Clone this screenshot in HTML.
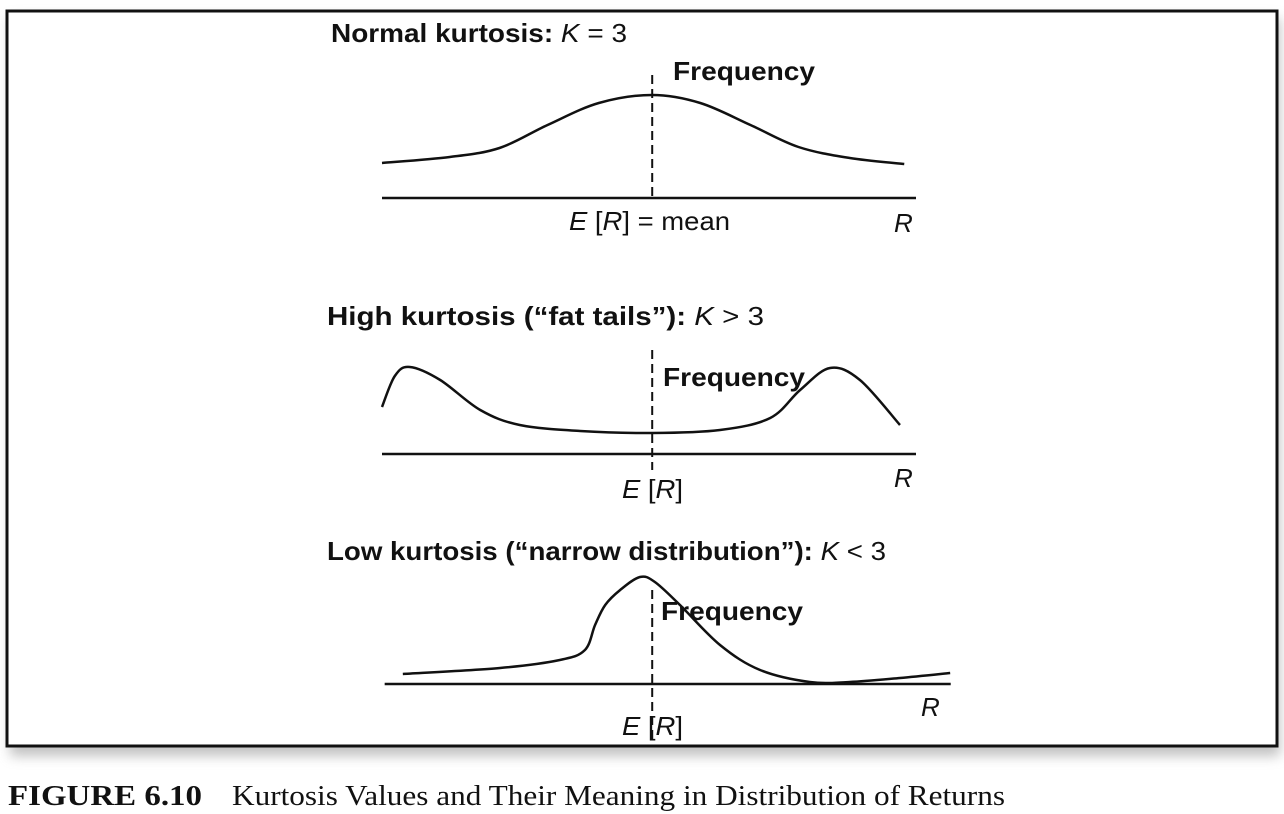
<!DOCTYPE html>
<html><head><meta charset="utf-8"><style>
html,body{margin:0;padding:0;background:#fff;}
body{width:1284px;height:814px;overflow:hidden;position:relative;}
svg{position:absolute;left:0;top:0;}
</style></head><body>
<svg id="fig" width="1284" height="814">
<defs><filter id="sh" x="-5%" y="-5%" width="110%" height="120%"><feGaussianBlur stdDeviation="6"/></filter></defs>
<rect x="10" y="18" width="1270" height="738" fill="#999" opacity="0.6" filter="url(#sh)"/>
<rect x="7" y="11" width="1270" height="735" fill="#fff" stroke="#111" stroke-width="3"/>
<g font-family="Liberation Sans, sans-serif" fill="#111" font-size="26" lengthAdjust="spacingAndGlyphs">
<text x="331" y="42" textLength="296" lengthAdjust="spacingAndGlyphs" font-weight="bold">Normal kurtosis: <tspan font-style="italic" font-weight="normal">K</tspan><tspan font-weight="normal"> = 3</tspan></text>
<text x="673" y="80" textLength="142" lengthAdjust="spacingAndGlyphs" font-weight="bold">Frequency</text>
<text x="569" y="230" textLength="161" lengthAdjust="spacingAndGlyphs"><tspan font-style="italic">E</tspan> [<tspan font-style="italic">R</tspan>] = mean</text>
<text x="894" y="232" font-style="italic">R</text>
<text x="327" y="325" textLength="437" lengthAdjust="spacingAndGlyphs" font-weight="bold">High kurtosis (“fat tails”): <tspan font-style="italic" font-weight="normal">K</tspan><tspan font-weight="normal"> &gt; 3</tspan></text>
<text x="663" y="386" textLength="142" lengthAdjust="spacingAndGlyphs" font-weight="bold">Frequency</text>
<text x="622" y="498" textLength="61" lengthAdjust="spacingAndGlyphs"><tspan font-style="italic">E</tspan> [<tspan font-style="italic">R</tspan>]</text>
<text x="894" y="487" font-style="italic">R</text>
<text x="327" y="560" textLength="559" lengthAdjust="spacingAndGlyphs" font-weight="bold">Low kurtosis (“narrow distribution”): <tspan font-style="italic" font-weight="normal">K</tspan><tspan font-weight="normal"> &lt; 3</tspan></text>
<text x="661" y="620" textLength="142" lengthAdjust="spacingAndGlyphs" font-weight="bold">Frequency</text>
<text x="622" y="735" textLength="61" lengthAdjust="spacingAndGlyphs"><tspan font-style="italic">E</tspan> [<tspan font-style="italic">R</tspan>]</text>
<text x="921" y="716" font-style="italic">R</text>
</g>
<text x="8" y="805" textLength="194" lengthAdjust="spacingAndGlyphs" font-family="Liberation Serif, serif" font-size="28" font-weight="bold" fill="#111">FIGURE 6.10</text>
<text x="232" y="805" textLength="773" lengthAdjust="spacingAndGlyphs" font-family="Liberation Serif, serif" font-size="29" fill="#111">Kurtosis Values and Their Meaning in Distribution of Returns</text>
<g id="plots"></g>
</svg>
<script>
const normalR=[0,12.7,22,31,40.6,50.6,59.6,69,78,87.6,97.8];
const normalF=[0.35,0.41,0.50,0.73,0.95,1.03,0.95,0.73,0.51,0.40,0.34];
const highR=[0,2.4,5.2,10.9,18.4,25.8,37.1,50.6,63.3,72.7,78.3,83.9,89.5,97];
const highF=[0.47,0.78,0.87,0.74,0.44,0.29,0.23,0.21,0.24,0.36,0.64,0.86,0.74,0.29];
const lowR=[3.9,22.1,33.3,38,39.9,41.8,44.6,48.3,51.1,55.8,63.3,70.8,80.1,87.6,97,106.4];
const lowF=[0.10,0.16,0.24,0.34,0.59,0.79,0.94,1.07,1.02,0.79,0.39,0.14,0.02,0.02,0.06,0.11];
const meanR=50.6;
const NS='http://www.w3.org/2000/svg';
const g=document.getElementById('plots');
function xs(r){return 382+r*5.34;}
function mk(tag,attrs){const e=document.createElementNS(NS,tag);for(const k in attrs)e.setAttribute(k,attrs[k]);g.appendChild(e);return e;}
function path(R,F,base){
  const p=R.map((r,i)=>[xs(r),base-F[i]*100]);
  let d='M'+p[0][0]+','+p[0][1];
  for(let i=0;i<p.length-1;i++){
    const p0=p[i-1]||p[i],p1=p[i],p2=p[i+1],p3=p[i+2]||p2;
    d+=' C'+(p1[0]+(p2[0]-p0[0])/6)+','+(p1[1]+(p2[1]-p0[1])/6)+' '+(p2[0]-(p3[0]-p1[0])/6)+','+(p2[1]-(p3[1]-p1[1])/6)+' '+p2[0]+','+p2[1];
  }
  return d;
}
const panels=[
 {n:'normal',R:normalR,F:normalF,base:198,ax0:0,ax1:100,d0:75,d1:198},
 {n:'high',R:highR,F:highF,base:454,ax0:0,ax1:100,d0:350,d1:470},
 {n:'low',R:lowR,F:lowF,base:684,ax0:0.5,ax1:106.5,d0:590,d1:742}
];
panels.forEach(pn=>{
  const a=mk('line',{x1:xs(pn.ax0),x2:xs(pn.ax1),y1:pn.base,y2:pn.base,stroke:'#111','stroke-width':2.5});
  
  
  const m=mk('line',{x1:xs(meanR),x2:xs(meanR),y1:pn.d0,y2:pn.d1,stroke:'#111','stroke-width':2,'stroke-dasharray':'9,5'});
  
  
  const c=mk('path',{d:path(pn.R,pn.F,pn.base),fill:'none',stroke:'#111','stroke-width':2.5});
  
  
});
</script>
</body></html>
